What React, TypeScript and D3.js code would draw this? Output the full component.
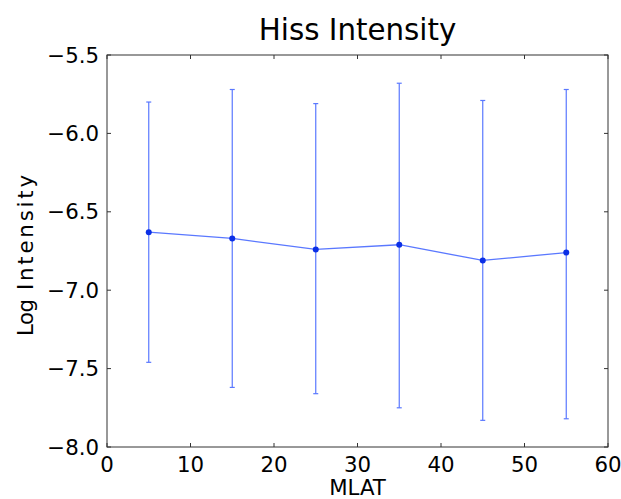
import React from "react";
import * as d3 from "d3";

const mlat = [5, 15, 25, 35, 45, 55];
const meanLogIntensity = [-6.63, -6.67, -6.74, -6.71, -6.81, -6.76];
const upperBound = [-5.8, -5.72, -5.81, -5.68, -5.79, -5.72];
const lowerBound = [-7.46, -7.62, -7.66, -7.75, -7.83, -7.82];
const xTicks = [0, 10, 20, 30, 40, 50, 60];
const yTicks = [-5.5, -6.0, -6.5, -7.0, -7.5, -8.0];

const W = 621;
const H = 499;
const M = { left: 107, right: 608, top: 55, bottom: 447 };
const FONT = "'DejaVu Sans', sans-serif";

export default function App() {
  const x = d3.scaleLinear().domain([0, 60]).range([M.left, M.right]);
  const y = d3.scaleLinear().domain([-8, -5.5]).range([M.bottom, M.top]);
  const pts = mlat.map((m, i) => ({ m, v: meanLogIntensity[i], hi: upperBound[i], lo: lowerBound[i] }));
  const line = d3
    .line<{ m: number; v: number }>()
    .x((d) => x(d.m))
    .y((d) => y(d.v));
  const axisColor = "#333";
  const lineColor = "#5a78ff";
  const tick = 4;
  return (
    <svg
      width={W}
      height={H}
      style={{ position: "absolute", left: 0, top: 0, background: "#fff" }}
      fontFamily={FONT}
    >
      <rect x={0} y={0} width={W} height={H} fill="#fff" />
      {/* error bars */}
      {pts.map((d, i) => (
        <g key={"e" + i} stroke={lineColor} strokeWidth={1.2}>
          <line x1={x(d.m)} x2={x(d.m)} y1={y(d.hi)} y2={y(d.lo)} />
          <line x1={x(d.m) - 2.5} x2={x(d.m) + 2.5} y1={y(d.hi)} y2={y(d.hi)} />
          <line x1={x(d.m) - 2.5} x2={x(d.m) + 2.5} y1={y(d.lo)} y2={y(d.lo)} />
        </g>
      ))}
      <path d={line(pts) || ""} fill="none" stroke={lineColor} strokeWidth={1.3} />
      {pts.map((d, i) => (
        <circle key={"p" + i} cx={x(d.m)} cy={y(d.v)} r={3} fill="#0b2fe6" />
      ))}
      {/* frame */}
      <rect
        x={M.left}
        y={M.top}
        width={M.right - M.left}
        height={M.bottom - M.top}
        fill="none"
        stroke={axisColor}
        strokeWidth={1}
      />
      {/* x ticks */}
      {xTicks.map((t) => (
        <g key={"x" + t}>
          <line x1={x(t)} x2={x(t)} y1={M.bottom} y2={M.bottom - tick} stroke={axisColor} />
          <line x1={x(t)} x2={x(t)} y1={M.top} y2={M.top + tick} stroke={axisColor} />
          <text x={x(t)} y={472} fontSize={21.3} textAnchor="middle" fill="#000">
            {t}
          </text>
        </g>
      ))}
      {/* y ticks */}
      {yTicks.map((t) => (
        <g key={"y" + t}>
          <line x1={M.left} x2={M.left + tick} y1={y(t)} y2={y(t)} stroke={axisColor} />
          <line x1={M.right} x2={M.right - tick} y1={y(t)} y2={y(t)} stroke={axisColor} />
          <text
            x={M.left - 8}
            y={y(t)}
            dy="0.36em"
            fontSize={21.3}
            textAnchor="end"
            fill="#000"
          >
            {"\u2212" + Math.abs(t).toFixed(1)}
          </text>
        </g>
      ))}
      <text x={(M.left + M.right) / 2} y={495} fontSize={21.3} textAnchor="middle" fill="#000">
        MLAT
      </text>
      <g transform="translate(33, 0) rotate(-90)" fill="#000" fontSize={21.3}>
        <text x={-336} y={0} textLength={37} lengthAdjust="spacing">
          Log
        </text>
        <text x={-290} y={0} textLength={115} lengthAdjust="spacing">
          Intensity
        </text>
      </g>
      <text x={(M.left + M.right) / 2} y={40} fontSize={29.3} textAnchor="middle" fill="#000">
        Hiss Intensity
      </text>
    </svg>
  );
}
